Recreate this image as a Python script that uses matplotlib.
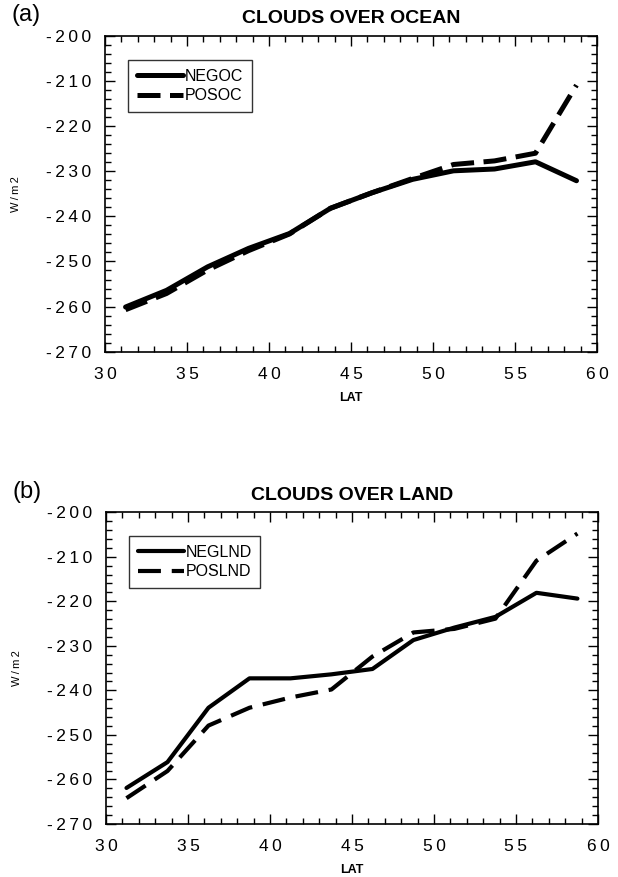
import matplotlib
matplotlib.use('Agg')
import matplotlib.pyplot as plt
from matplotlib.ticker import MultipleLocator

plt.rcParams['font.family'] = ['Liberation Sans', 'DejaVu Sans']

# latitude bands (band centres, deg N)
lat = [31.25, 33.75, 36.25, 38.75, 41.25, 43.75, 46.25, 48.75, 51.25, 53.75, 56.25, 58.75]

# cloud forcing over ocean (W/m2)
negoc = [-260.1, -256.4, -251.2, -247.1, -243.8, -238.2, -234.8, -231.8, -229.9, -229.5, -227.9, -232.1]
posoc = [-260.7, -257.1, -251.9, -247.6, -243.9, -238.2, -234.8, -231.6, -228.5, -227.7, -226.0, -210.9]

# cloud forcing over land (W/m2)
neglnd = [-261.9, -256.1, -243.9, -237.3, -237.3, -236.4, -235.2, -228.7, -225.9, -223.5, -218.1, -219.4]
poslnd = [-264.2, -258.1, -247.9, -243.9, -241.6, -239.8, -232.4, -227.0, -226.2, -223.9, -210.9, -204.8]

yticks = [-200, -210, -220, -230, -240, -250, -260, -270]
xticks = [30, 35, 40, 45, 50, 55, 60]


def spaced(v):
    return '\u2009'.join(str(v))


fig = plt.figure(figsize=(6.18, 8.77), dpi=100)
ax1 = fig.add_axes([0.170, 0.599, 0.796, 0.360])
ax2 = fig.add_axes([0.1715, 0.0604, 0.796, 0.3556])

panels = [
    (ax1, negoc, posoc, 'NEGOC', 'POSOC', 'CLOUDS OVER OCEAN', '(a)', 3.6, (4.6, 1.9)),
    (ax2, neglnd, poslnd, 'NEGLND', 'POSLND', 'CLOUDS OVER LAND', '(b)', 3.0, (5.5, 2.6)),
]

for ax, neg, pos, lneg, lpos, titulo, letra, lw, traco in panels:
    ax.plot(lat, neg, color='black', lw=lw, solid_capstyle='round', label=lneg)
    ax.plot(lat, pos, color='black', lw=lw, dashes=traco, label=lpos)

    ax.set_xlim(30, 60)
    ax.set_ylim(-270, -200)
    ax.set_xticks(xticks)
    ax.set_xticklabels([spaced(v) for v in xticks], fontsize=12.5)
    ax.set_yticks(yticks)
    ax.set_yticklabels([spaced(v) for v in yticks], fontsize=12.5)
    ax.xaxis.set_minor_locator(MultipleLocator(1))
    ax.yaxis.set_minor_locator(MultipleLocator(2))
    ax.tick_params(which='both', direction='in', top=True, right=True, width=1)
    ax.tick_params(which='major', length=7)
    ax.tick_params(axis='x', which='major', pad=11)
    ax.tick_params(axis='y', which='major', pad=10)
    ax.tick_params(which='minor', length=4)
    for s in ax.spines.values():
        s.set_linewidth(1.2)

    ax.set_xlabel('LAT', fontsize=9, fontweight='bold', labelpad=7)
    ax.set_ylabel('W\u2009/\u2009m\u20092', fontsize=8, labelpad=18)
    ax.set_title(titulo, fontsize=14, fontweight='bold', pad=9)
    ax.text(-0.16, 1.065, letra, transform=ax.transAxes, fontsize=17, ha='center', va='center')

    leg = ax.legend(loc='upper left', bbox_to_anchor=(0.03, 0.95), fontsize=11.5,
                    frameon=True, fancybox=False, edgecolor='black', handlelength=2.9,
                    handletextpad=0.1, borderpad=0.55, labelspacing=0.3)
    leg.get_frame().set_linewidth(1.0)

fig.savefig('out.png', dpi=100)
